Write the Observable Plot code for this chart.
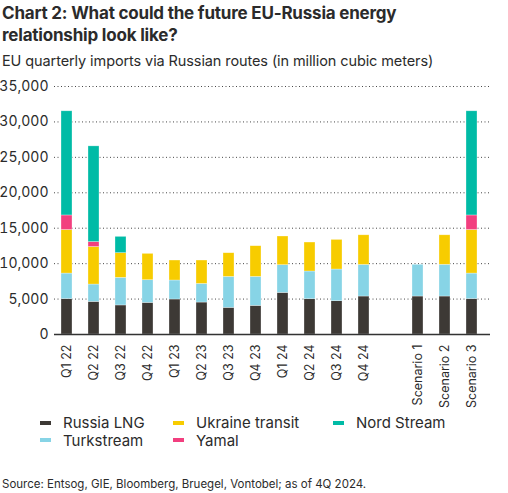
<!DOCTYPE html>
<html>
<head>
<meta charset="utf-8">
<script src="https://cdn.jsdelivr.net/npm/d3@7"></script>
<script src="https://cdn.jsdelivr.net/npm/@observablehq/plot@0.6"></script>
<style>
  body { margin: 0; background: #fff; font-family: Inter, "Noto Sans", sans-serif; color: #2b2b2b; }
  #wrap { width: 508px; }
  h1 { font-size: 17px; font-weight: 700; line-height: 22px; margin: 0; padding: 2px 0 0 2px; letter-spacing: -0.2px; }
  .sub { font-size: 14.5px; margin: 6px 0 0 2px; line-height: 18px; letter-spacing: -0.1px; }
  #chart svg { display: block; overflow: visible; }
  .legend { display: grid; grid-template-columns: 133px 160px auto; padding-left: 40px; margin-top: 8px; font-size: 15px; line-height: 17.5px; }
  .legend span.sw { display: inline-block; width: 11px; height: 4px; margin-right: 12px; vertical-align: middle; position: relative; top: -1px; }
  .source { font-size: 11.5px; margin: 28px 0 0 2px; line-height: 14px; }
</style>
</head>
<body>
<div id="wrap">
  <h1>Chart 2: What could the future EU-Russia energy<br>relationship look like?</h1>
  <div class="sub">EU quarterly imports via Russian routes (in million cubic meters)</div>
  <div id="chart"></div>
  <div class="legend" id="legend"></div>
  <div class="source">Source: Entsog, GIE, Bloomberg, Bruegel, Vontobel; as of 4Q 2024.</div>
</div>
<script>
// categories, "" is the empty slot before the scenarios
const periods = ["Q1 22", "Q2 22", "Q3 22", "Q4 22", "Q1 23", "Q2 23", "Q3 23", "Q4 23",
  "Q1 24", "Q2 24", "Q3 24", "Q4 24", "", "Scenario 1", "Scenario 2", "Scenario 3"]
const series = ["Russia LNG", "Turkstream", "Ukraine transit", "Yamal", "Nord Stream"]
const colors = ["#3d3935", "#87d4e6", "#f7cc00", "#f23f7f", "#00bba6"]

// values (million m3)
const russiaLng = [5000, 4600, 4100, 4460, 4940, 4510, 3760, 4040, 5870, 4980, 4700, 5360, 0, 5360, 5360, 5000]
const turkstream = [3600, 2450, 3900, 3200, 2680, 2630, 4370, 4090, 3910, 3910, 4470, 4460, 0, 4480, 4480, 3600]
const ukraine = [6150, 5300, 3480, 3720, 2820, 3300, 3340, 4330, 4050, 4090, 4180, 4180, 0, 0, 4160, 6150]
const yamal = [2050, 700, 0, 0, 0, 0, 0, 0, 0, 0, 0, 0, 0, 0, 0, 2050]
const nordStream = [14700, 13500, 2300, 0, 0, 0, 0, 0, 0, 0, 0, 0, 0, 0, 0, 14700]

const yTicks = [0, 5000, 10000, 15000, 20000, 25000, 30000, 35000]

const values = [russiaLng, turkstream, ukraine, yamal, nordStream]
const data = []
series.forEach((s, i) => {
  periods.forEach((p, j) => {
    if (p !== "") data.push({period: p, route: s, value: values[i][j]})
  })
})

let chart = Plot.plot({
  width: 508,
  height: 336,
  marginTop: 16,
  marginLeft: 54,
  marginRight: 18,
  marginBottom: 72,
  style: {fontFamily: "Inter, 'Noto Sans', sans-serif", color: "#2b2b2b", overflow: "visible"},
  x: {domain: periods, paddingInner: 0.595, paddingOuter: 0.333, align: 0.33, label: null},
  y: {domain: [0, 35000], label: null},
  color: {domain: series, range: colors},
  marks: [
    Plot.gridY(yTicks, {stroke: "#333", strokeOpacity: 0.9, strokeDasharray: "1,2.5", strokeWidth: 1}),
    Plot.axisY(yTicks, {tickSize: 0, tickPadding: 6, fontSize: 14, tickFormat: d3.format(","), label: null}),
    Plot.axisX({tickSize: 0, tickPadding: 10, tickRotate: -90, fontSize: 12.5, label: null}),
    Plot.barY(data, {
      x: "period",
      y: "value",
      fill: "route",
      stroke: "#fff",
      strokeOpacity: 0.5,
      strokeWidth: 0.6,
      title: d => d.route + "\n" + d.value
    }),
    Plot.ruleY([0], {stroke: "#333", strokeWidth: 1.5})
  ]
})
d3.select("#chart").append(() => chart)

// legend as html, three columns
const order = [0, 2, 4, 1, 3]
d3.select("#legend").selectAll("div")
  .data(order)
  .join("div")
  .html(i => `<span class="sw" style="background:${colors[i]}"></span>${series[i]}`)
</script>
</body>
</html>
